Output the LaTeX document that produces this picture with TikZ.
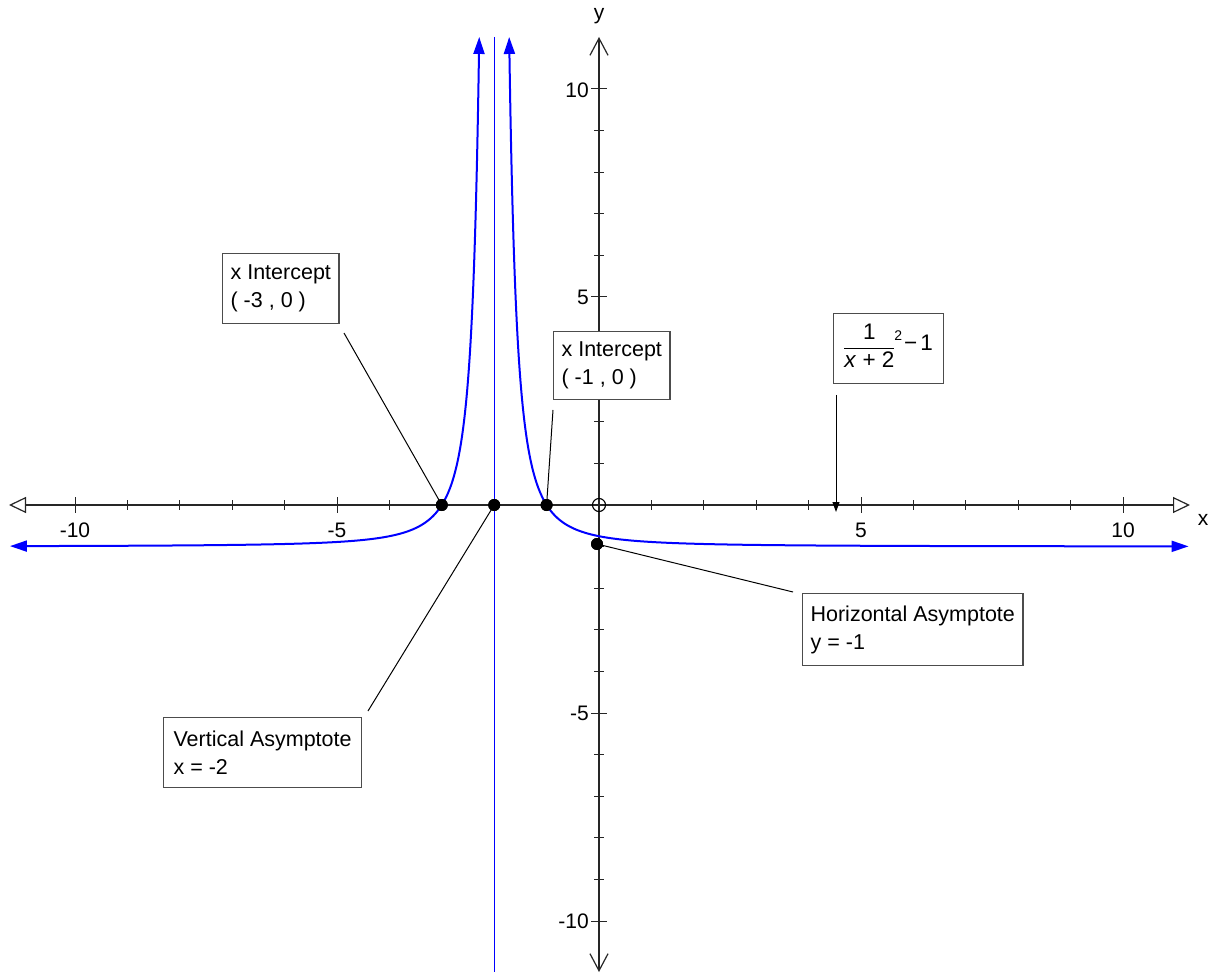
\documentclass[tikz,border=0pt]{standalone}
\usepackage{fontspec}
\setmainfont{Liberation Sans}
\usetikzlibrary{arrows.meta}
\begin{document}
\begin{tikzpicture}[x=1pt,y=-1pt,
  axis/.style={line width=1.2pt, draw=black!85},
  curve/.style={draw={rgb,255:red,0;green,0;blue,255}, line width=2pt},
  asym/.style={draw={rgb,255:red,0;green,0;blue,255}, line width=1.1pt},
  lbl/.style={font=\fontsize{21}{25}\selectfont, inner sep=0pt},
  infobox/.style={draw=black!70, line width=1.2pt, fill=white, anchor=north west, align=left, font=\fontsize{21.5}{28}\selectfont, inner xsep=8pt, inner ysep=0pt},
  dot/.style={circle, fill=black, inner sep=0pt, minimum size=12pt},
  odot/.style={circle, draw=black, line width=1.1pt, inner sep=0pt, minimum size=13pt},
  leader/.style={line width=1pt, draw=black}
]
\useasboundingbox (0,0) rectangle (1213,973);
\fill[white] (0,0) rectangle (1213,973);

% axes
\coordinate (xl) at (9,505);
\coordinate (xr) at (1190,505);
\coordinate (yt) at (599,37);
\coordinate (yb) at (599,972);
\draw[axis, {Triangle[open,length=17pt,width=16pt]}-{Triangle[open,length=17pt,width=16pt]}] (xl) -- (xr);
\draw[axis, {Straight Barb[length=17pt,width=18pt]}-{Straight Barb[length=17pt,width=18pt]}] (yt) -- (yb);

% ticks
\foreach \i in {-10,...,-1,1,2,...,10}{
  \pgfmathsetmacro{\px}{599+52.4*\i}
  \pgfmathsetmacro{\py}{505-41.6*\i}
  \pgfmathsetmacro{\tl}{(mod(abs(\i),5)==0) ? 8 : 5}
  \draw[axis, line width=1pt] (\px,505-\tl) -- (\px,505+\tl);
  \draw[axis, line width=1pt] (599-\tl,\py) -- (599+\tl,\py);
}

% tick labels
\node[lbl] (lxm10) at (75,530) {-10};
\node[lbl] (lxm5) at (337,530) {-5};
\node[lbl] (lx5) at (861,530) {5};
\node[lbl] (lx10) at (1123,530) {10};
\node[lbl, anchor=east] (ly10) at (589,90) {10};
\node[lbl, anchor=east] (ly5) at (589,297) {5};
\node[lbl, anchor=east] (lym5) at (589,713) {-5};
\node[lbl, anchor=east] (lym10) at (589,921) {-10};
\node[lbl] (xlab) at (1203,520) {x};
\node[lbl] (ylab) at (599,16) {y};

% vertical asymptote
\coordinate (vat) at (494.2,37);
\coordinate (vab) at (494.2,972);
\draw[asym] (vat) -- (vab);

% curve
\begin{scope}[shift={(599,505)}, x=52.4pt, y=41.6pt]
\draw[curve, {Triangle[length=17pt,width=11pt]}-{Triangle[length=17pt,width=11pt]}]
  plot[domain=-1.2528:2.2257, samples=300, variable=\s] ({-2-exp(\s)}, {exp(-2*\s)-1});
\draw[curve, {Triangle[length=17pt,width=11pt]}-{Triangle[length=17pt,width=11pt]}]
  plot[domain=-1.2528:2.5847, samples=300, variable=\s] ({-2+exp(\s)}, {exp(-2*\s)-1});
\end{scope}

% points
\node[dot] (p1) at (441.8,505) {};
\node[dot] (p2) at (494.2,505) {};
\node[dot] (p3) at (546.6,505) {};
\node[dot] (p4) at (597,544) {};
\node[odot] (p0) at (599,505) {};

% boxes
\node[infobox, minimum width=116pt, minimum height=70pt] (b1) at (222,253) {x Intercept\\( -3 , 0 )};
\node[infobox, minimum width=116pt, minimum height=68pt] (b2) at (553,331) {x Intercept\\( -1 , 0 )};
\node[infobox, minimum width=110pt, minimum height=70pt] (b3) at (833,313) {%
  \setlength\arrayrulewidth{1pt}\fontsize{22.5}{27}\selectfont
  \raisebox{-3pt}{\begin{tabular}{@{}c@{}}1\\\hline\textit{x} + 2\end{tabular}}\raisebox{10pt}{\fontsize{14}{14}\selectfont 2}\hspace{2pt}−\hspace{3pt}1};
\node[infobox, minimum width=220pt, minimum height=72pt] (b4) at (802,593) {Horizontal Asymptote\\y = -1};
\node[infobox, minimum width=198pt, minimum height=70pt] (b5) at (163,717) {Vertical Asymptote\\x = -2};

% leaders
\coordinate (c1) at (344,333);
\coordinate (c2) at (553,410);
\coordinate (c4) at (793,592);
\coordinate (c5) at (368,711);
\coordinate (f1) at (836,395);
\coordinate (f2) at (836,512);
\draw[leader] (c1) -- (p1.center);
\draw[leader] (c2) -- (p3.center);
\draw[leader] (p4.center) -- (c4);
\draw[leader] (p2.center) -- (c5);
\draw[leader, -{Triangle[length=10pt,width=7pt]}] (f1) -- (f2);

% redraw dots on top
\node[dot] at (p1) {};
\node[dot] at (p2) {};
\node[dot] at (p3) {};
\node[dot] at (p4) {};
\end{tikzpicture}
\end{document}
